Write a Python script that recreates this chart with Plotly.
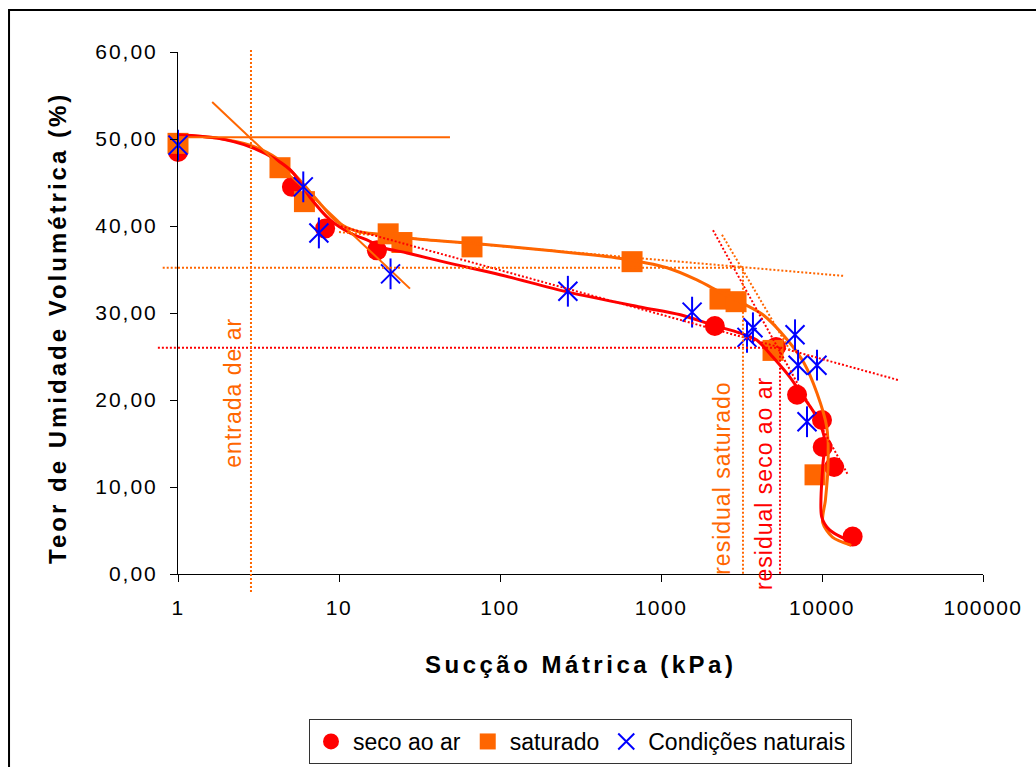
import numpy as np
import plotly.graph_objects as go

# --- measured points -------------------------------------------------------
seco_x = [1, 5.1, 8.2, 17.2, 2160, 5180, 7000, 10000, 10100, 11900, 15500]
seco_y = [48.5, 44.5, 39.7, 37.2, 28.5, 26.1, 20.6, 17.7, 14.6, 12.3, 4.3]

sat_x = [1, 4.3, 6.1, 20.2, 24.6, 67, 661, 2325, 2925, 4965, 9050]
sat_y = [49.5, 46.7, 42.8, 39.1, 38.1, 37.6, 35.9, 31.6, 31.3, 25.7, 11.4]

nat_x = [1, 6.0, 7.5, 20.9, 264, 1560, 3725, 3420, 6800, 7100, 9310, 8070]
nat_y = [49.3, 44.5, 39.2, 34.5, 32.5, 30.1, 28.3, 27.2, 27.5, 24.0, 24.0, 17.5]

# --- fitted retention curves -----------------------------------------------
fit_seco_x = [1, 1.75, 2.8, 4.1, 5.2, 6.6, 8.8, 11.7, 14.9, 18.8, 26.5, 49, 100,
              264, 740, 1320, 2105, 3100, 3930, 4965, 6330, 7700, 9310, 10400,
              10100, 9950, 11100, 15500]
fit_seco_y = [50.5, 50.1, 49.1, 47.6, 46.1, 43.3, 40.7, 39.2, 38.4, 37.5, 36.9,
              35.7, 34.4, 32.4, 30.7, 29.8, 28.6, 27.7, 26.9, 24.9, 22.6, 20.3,
              18.0, 15.4, 12.3, 6.6, 5.1, 3.6]

fit_sat_x = [1, 1.75, 2.8, 4.1, 5.5, 7.3, 9.7, 12.9, 18.8, 30.6, 78, 195, 550,
             1090, 1670, 2330, 3230, 4300, 6100, 7700, 9300, 10700, 10900, 10500,
             10100, 11600, 15200]
fit_sat_y = [50.5, 50.1, 49.3, 47.8, 45.6, 43.0, 40.5, 39.4, 39.0, 38.5, 37.9,
             37.2, 36.3, 35.2, 33.8, 32.4, 31.1, 29.8, 26.9, 24.3, 20.8, 16.9,
             12.3, 8.5, 5.9, 4.25, 3.3]

# --- construction lines (x1, y1, x2, y2) ------------------------------------
plateau_sat = (1, 50.2, 48.9, 50.2)            # horizontal at saturation
slope_air_entry = (1.63, 54.25, 27.6, 32.8)     # tangent through inflection
entry_x = 2.84                                  # air-entry suction
resid_sat_x = 3230                              # residual suction, saturado
resid_seco_x = 5485                             # residual suction, seco ao ar
level_sat = 35.2                                # residual level, saturado
level_seco = 26.0                               # residual level, seco ao ar
tan_sat_plateau = (10, 39.3, 13900, 34.25)
tan_seco_plateau = (9.7, 40.1, 29650, 22.3)
tan_seco_steep = (2104, 39.5, 14500, 11.4)
tan_sat_steep = (2393, 39.0, 6330, 25.7)

y_ticks = [0, 10, 20, 30, 40, 50, 60]
y_tick_text = ["0,00", "10,00", "20,00", "30,00", "40,00", "50,00", "60,00"]
x_ticks = [1, 10, 100, 1000, 10000, 100000]
x_tick_text = ["1", "10", "100", "1000", "10000", "100000"]

RED = "#FF0000"
ORANGE = "#FF6600"
BLUE = "#0000FF"
FONT = "Liberation Sans"

fig = go.Figure()

# markers (below the fitted curves)
fig.add_trace(go.Scatter(x=seco_x, y=seco_y, mode="markers", name="seco ao ar",
                         marker=dict(symbol="circle", size=20, color=RED),
                         cliponaxis=False, legendrank=1))
fig.add_trace(go.Scatter(x=sat_x, y=sat_y, mode="markers", name="saturado",
                         marker=dict(symbol="square", size=21, color=ORANGE),
                         cliponaxis=False, legendrank=2))

# fitted curves
fig.add_trace(go.Scatter(x=fit_sat_x, y=fit_sat_y, mode="lines", showlegend=False,
                         line=dict(color=ORANGE, width=3, shape="spline", smoothing=0.8)))
fig.add_trace(go.Scatter(x=fit_seco_x, y=fit_seco_y, mode="lines", showlegend=False,
                         line=dict(color=RED, width=3, shape="spline", smoothing=0.8)))

# solid construction lines
for seg in (plateau_sat, slope_air_entry):
    fig.add_trace(go.Scatter(x=[seg[0], seg[2]], y=[seg[1], seg[3]], mode="lines",
                             showlegend=False, line=dict(color=ORANGE, width=2)))

# natural condition points: six-armed asterisk built from an x and a vertical bar
fig.add_trace(go.Scatter(x=nat_x, y=nat_y, mode="markers", name="Condições naturais",
                         marker=dict(symbol="x-thin-open", size=19, color=BLUE,
                                     line=dict(color=BLUE, width=2)),
                         cliponaxis=False, legendrank=3, legendgroup="nat"))
fig.add_trace(go.Scatter(x=nat_x, y=nat_y, mode="markers", showlegend=False,
                         legendgroup="nat",
                         marker=dict(symbol="line-ns-open", size=22, color=BLUE,
                                     line=dict(color=BLUE, width=2)),
                         cliponaxis=False))

DOT = "2px,2px"
shapes = []


def seg_shape(seg, color, xref="x", yref="y"):
    return dict(type="line", xref=xref, yref=yref, x0=seg[0], y0=seg[1],
                x1=seg[2], y1=seg[3], line=dict(color=color, width=2, dash=DOT))


shapes.append(seg_shape(tan_sat_plateau, ORANGE))
shapes.append(seg_shape(tan_seco_plateau, RED))
shapes.append(seg_shape(tan_seco_steep, RED))
shapes.append(seg_shape(tan_sat_steep, ORANGE))
# residual levels; the short stubs reach a little past the y axis
shapes.append(seg_shape((1, level_sat, resid_sat_x, level_sat), ORANGE))
shapes.append(seg_shape((-0.019, level_sat, 0, level_sat), ORANGE, xref="paper"))
shapes.append(seg_shape((1, level_seco, resid_seco_x, level_seco), RED))
shapes.append(seg_shape((-0.025, level_seco, 0, level_seco), RED, xref="paper"))
# air-entry marker runs the full height and a little below the x axis
shapes.append(seg_shape((entry_x, 1.004, entry_x, -0.037), ORANGE, yref="paper"))
shapes.append(seg_shape((resid_sat_x, level_sat, resid_sat_x, 0), ORANGE))
shapes.append(seg_shape((resid_seco_x, level_seco, resid_seco_x, 0), RED))

# outer frame of the chart area
shapes.append(dict(type="rect", xref="paper", yref="paper", x0=-0.2099, y0=-0.6,
                   x1=1.2, y1=1.0805, line=dict(color="#000000", width=2),
                   fillcolor="rgba(0,0,0,0)", layer="below"))

annotations = [
    dict(text="entrada de ar", x=np.log10(2.2), y=20.8, xref="x", yref="y",
         textangle=-90, showarrow=False, font=dict(family=FONT, size=23, color=ORANGE)),
    dict(text="residual saturado", x=np.log10(2393), y=11.0, xref="x", yref="y",
         textangle=-90, showarrow=False, font=dict(family=FONT, size=23, color=ORANGE)),
    dict(text="residual seco ao ar", x=np.log10(4305), y=10.4, xref="x", yref="y",
         textangle=-90, showarrow=False, font=dict(family=FONT, size=23, color=RED)),
    dict(text="<b>Teor de Umidade Volumétrica (%)</b>", x=-0.150, y=0.471,
         xref="paper", yref="paper", xanchor="center", yanchor="middle",
         textangle=-90, showarrow=False,
         font=dict(family=FONT, size=24, color="#000000")),
    dict(text="<b>Sucção Mátrica (kPa)</b>", x=0.4994, y=-0.174,
         xref="paper", yref="paper", xanchor="center", yanchor="middle",
         showarrow=False, font=dict(family=FONT, size=24, color="#000000")),
]

fig.update_layout(
    width=1036, height=767,
    margin=dict(l=178, r=53, t=52, b=193, autoexpand=False),
    paper_bgcolor="#FFFFFF", plot_bgcolor="#FFFFFF",
    font=dict(family=FONT, color="#000000"),
    shapes=shapes, annotations=annotations,
    legend=dict(orientation="h", x=0.5, xanchor="center",
                yref="container", y=1 - 719 / 767, yanchor="top",
                bordercolor="#333333", borderwidth=1,
                font=dict(family=FONT, size=23, color="#000000"),
                itemwidth=34),
    showlegend=True,
)
fig.update_xaxes(type="log", range=[0, 5], showgrid=False, zeroline=False,
                 showline=True, linecolor="#000000", linewidth=1,
                 ticks="outside", ticklen=7, tickcolor="#000000",
                 tickvals=x_ticks, ticktext=x_tick_text, ticklabelstandoff=8,
                 tickfont=dict(family=FONT, size=21, color="#000000"))
fig.update_yaxes(range=[0, 60], showgrid=False, zeroline=False,
                 showline=True, linecolor="#000000", linewidth=1,
                 ticks="outside", ticklen=7, tickcolor="#000000",
                 tickvals=y_ticks, ticktext=y_tick_text, ticklabelstandoff=8,
                 tickfont=dict(family=FONT, size=21, color="#000000"))

# wider character spacing for the chart's text
spacing_js = """
var gd = document.getElementById('{plot_id}');
function spread(sel, v) {
  gd.querySelectorAll(sel).forEach(function (t) { t.style.letterSpacing = v; });
}
spread('.annotation[data-index="0"] text', '1px');
spread('.annotation[data-index="1"] text', '1px');
spread('.annotation[data-index="2"] text', '1px');
spread('.annotation[data-index="3"] text', '3px');
spread('.annotation[data-index="4"] text', '3.5px');
spread('.xtick text', '1.5px');
spread('.ytick text', '2px');
"""

fig.write_html("out.html", post_script=spacing_js)
